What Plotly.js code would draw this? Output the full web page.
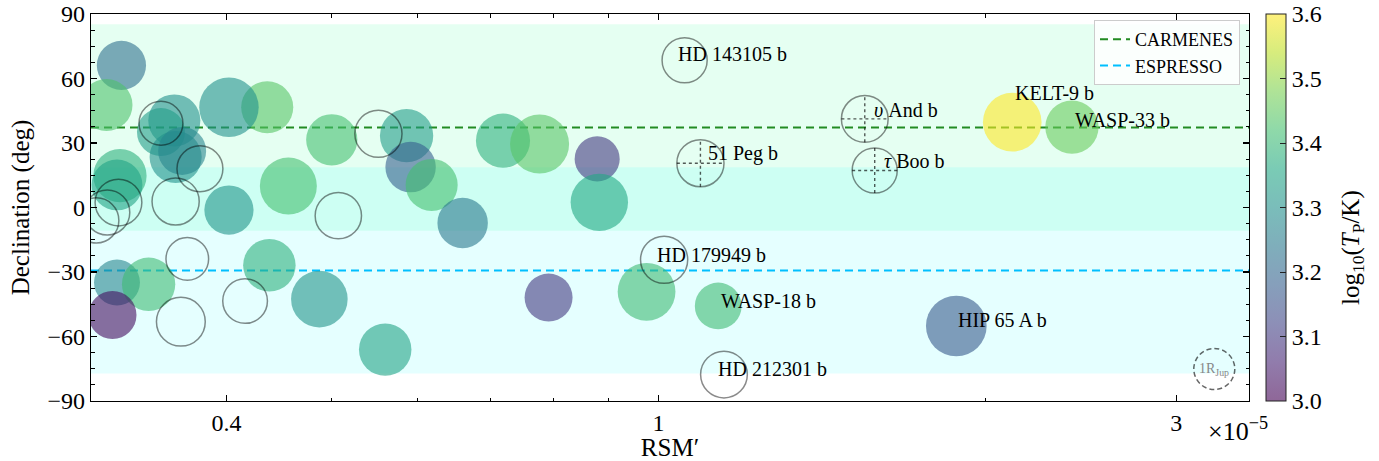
<!DOCTYPE html>
<html><head><meta charset="utf-8">
<script src="https://cdn.plot.ly/plotly-3.0.1.min.js"></script>
<style>html,body{margin:0;padding:0;background:#fff}#chart{width:1379px;height:461px}</style>
</head><body><div id="chart"></div>
<script>
// ---------- DATA ----------
// RSM' in units of 1e-5, declination in deg, planet radius in R_Jup, log10(T_P/K)
const filledX = [0.320, 0.310, 0.358, 0.348, 0.359, 0.364, 0.436, 0.402, 0.456, 0.402, 0.319, 0.317, 0.317, 0.339, 0.314, 0.438, 0.487, 0.500, 0.586, 0.591, 0.618, 0.660, 0.560, 0.719, 0.777, 0.878, 0.882, 0.792, 0.975, 1.135, 2.118, 2.404, 1.881];
const filledDec = [66.1, 47.7, 40.5, 35.1, 23.5, 26.3, 46.6, 46.6, 10.0, -1.2, 14.8, 10.5, -34.9, -35.7, -50.0, -26.9, -42.6, 31.5, 33.4, 18.8, 10.5, -7.2, -66.1, 31.1, 29.5, 22.6, 2.4, -41.9, -39.2, -45.8, 39.7, 37.4, -55.1];
const filledRadius = [1.20, 1.27, 1.27, 1.17, 1.27, 1.17, 1.27, 1.45, 1.39, 1.20, 1.30, 1.24, 1.12, 1.30, 1.17, 1.28, 1.38, 1.25, 1.30, 1.23, 1.27, 1.23, 1.28, 1.32, 1.44, 1.10, 1.40, 1.17, 1.41, 1.14, 1.43, 1.30, 1.48];
const filledLogT = [3.22, 3.43, 3.30, 3.33, 3.30, 3.27, 3.44, 3.30, 3.42, 3.31, 3.38, 3.35, 3.27, 3.41, 3.02, 3.38, 3.31, 3.42, 3.33, 3.18, 3.42, 3.24, 3.35, 3.38, 3.44, 3.10, 3.36, 3.10, 3.41, 3.41, 3.60, 3.46, 3.17];
const filledName = ['', '', '', '', '', '', '', '', '', '', '', '', '', '', '', '', '', '', '', '', '', '', '', '', '', '', '', '', '', 'WASP-18 b', 'KELT-9 b', 'WASP-33 b', 'HIP 65 A b'];

// planets without temperature (open circles)
const openX = [0.348, 0.378, 0.359, 0.318, 0.3105, 0.3034, 0.368, 0.363, 0.416, 0.507, 0.552, 1.012, 1.149, 1.093, 1.057, 1.549, 1.582];
const openDec = [39.2, 18.0, 2.8, 2.3, -2.3, -6.0, -23.9, -53.1, -43.5, -3.8, 34.3, -24.3, -77.7, 20.6, 68.5, 41.2, 17.2];
const openRadius = [1.07, 1.12, 1.15, 1.14, 1.10, 1.10, 1.04, 1.19, 1.09, 1.13, 1.15, 1.15, 1.14, 1.15, 1.10, 1.14, 1.10];
const openName = ['', '', '', '', '', '', '', '', '', '', '', 'HD 179949 b', 'HD 212301 b', '51 Peg b', 'HD 143105 b', 'υ And b', 'τ Boo b'];
const crosshairNames = ['51 Peg b', 'υ And b', 'τ Boo b'];

// observatories
const siteNames = ['CARMENES', 'ESPRESSO'];
const siteLat = [37.22, -29.26];
const siteDecMin = [-10.78, -77.26];
const siteDecMax = [85.22, 18.74];

// reference size
const refRadius = 1; // R_Jup

// ticks
const xTickVals = [0.4, 1, 3];
const xTickText = ['0.4', '1', '3'];
const xMinorVals = [0.3, 0.5, 0.6, 0.7, 0.8, 0.9, 2];
const yTickVals = [-90, -60, -30, 0, 30, 60, 90];
const cbTickVals = [3.0, 3.1, 3.2, 3.3, 3.4, 3.5, 3.6];
const cbTickText = ['3.0', '3.1', '3.2', '3.3', '3.4', '3.5', '3.6'];
const xRange = [0.3, 3.5];
const yRange = [-90, 90];
const cRange = [3.0, 3.6];

// ---------- STYLE ----------
const FONT = 'Liberation Serif, Times New Roman, serif';
const PX_PER_RJUP = 41;
const MARGIN = {l: 91, r: 130, t: 14, b: 60};
const PLOT_W = 1379 - MARGIN.l - MARGIN.r, PLOT_H = 461 - MARGIN.t - MARGIN.b;
const siteLineColors = ['#228B22', '#00BFFF'];
const siteBandColors = ['rgba(0,255,127,0.10)', 'rgba(0,255,255,0.10)'];
const labelOffset = {
  'HD 143105 b': [-9, 6], '51 Peg b': [6, 10], 'υ And b': [7, 9], 'τ Boo b': [7, 10],
  'KELT-9 b': [1, 29], 'WASP-33 b': [1, 7], 'HD 179949 b': [-9, 5], 'WASP-18 b': [1, 5],
  'HD 212301 b': [-8, 6], 'HIP 65 A b': [0, 6]
};
const viridis = ['#440154','#482475','#414487','#355f8d','#2a788e','#21918c','#22a884','#44bf70','#7ad151','#bddf26','#fde725'];
function blend(hex, a) {
  const r = parseInt(hex.slice(1,3),16), g = parseInt(hex.slice(3,5),16), b = parseInt(hex.slice(5,7),16);
  const f = c => Math.round(c*a + 255*(1-a));
  return 'rgb(' + f(r) + ',' + f(g) + ',' + f(b) + ')';
}
const viridisScale = viridis.map((c, i) => [i/10, c]);
const viridisPale = viridis.map((c, i) => [i/10, blend(c, 0.6)]);

function fmtName(n) {
  return n.replace(/^([υτ])/, '<i>$1</i>');
}
// fraction of the log x-axis (used only to anchor pixel-sized decorations)
const lx0 = Math.log10(xRange[0]), lx1 = Math.log10(xRange[1]);
function xFrac(v) { return (Math.log10(v) - lx0) / (lx1 - lx0); }
// page pixel -> paper fraction (for decorations placed outside the data)
function px2fx(px) { return (px - MARGIN.l) / PLOT_W; }
function py2fy(py) { return (461 - MARGIN.b - py) / PLOT_H; }

// ---------- TRACES ----------
const traces = [];
traces.push({
  type: 'scatter', mode: 'markers', x: filledX, y: filledDec, showlegend: false, hoverinfo: 'skip',
  cliponaxis: true,
  marker: {
    size: filledRadius.map(r => r * PX_PER_RJUP), color: filledLogT, cmin: cRange[0], cmax: cRange[1],
    colorscale: viridisScale, opacity: 0.6, line: {width: 0}, showscale: false
  }
});
traces.push({
  type: 'scatter', mode: 'markers', x: openX, y: openDec, showlegend: false, hoverinfo: 'skip',
  cliponaxis: true,
  marker: {
    size: openRadius.map(r => r * PX_PER_RJUP), color: 'rgba(0,0,0,0)',
    line: {width: 1.5, color: 'rgba(0,0,0,0.65)'}
  }
});
// colorbar carrier
traces.push({
  type: 'scatter', mode: 'markers', x: [null], y: [null], showlegend: false, hoverinfo: 'skip',
  marker: {
    color: [cRange[0]], cmin: cRange[0], cmax: cRange[1], colorscale: viridisPale, showscale: true,
    colorbar: {
      x: px2fx(1266), xanchor: 'left', xpad: 0, ypad: 0, y: 0.5, yanchor: 'middle',
      len: 1, lenmode: 'fraction', thickness: 20, thicknessmode: 'pixels',
      outlinewidth: 1, outlinecolor: '#222',
      tickmode: 'array', tickvals: cbTickVals.map(v => Math.min(Math.max(v, cRange[0]), cRange[1] - 1e-9)),
      ticktext: cbTickText, ticklabeloverflow: 'allow',
      ticks: 'inside', ticklen: 6, tickcolor: '#222',
      tickfont: {family: FONT, size: 24, color: '#000'}
    }
  }
});

// ---------- SHAPES ----------
const shapes = [];
siteNames.forEach((n, i) => {
  shapes.push({type: 'rect', xref: 'paper', yref: 'y', x0: 0, x1: 1, y0: siteDecMin[i], y1: siteDecMax[i],
    fillcolor: siteBandColors[i], line: {width: 0}, layer: 'below'});
});
siteNames.forEach((n, i) => {
  shapes.push({type: 'line', xref: 'paper', yref: 'y', x0: 0, x1: 1, y0: siteLat[i], y1: siteLat[i],
    line: {color: siteLineColors[i], width: 2, dash: '8px,5px'}, layer: 'below',
    showlegend: true, name: n, legendrank: i + 1});
});
openName.forEach((n, i) => {
  if (crosshairNames.indexOf(n) < 0) return;
  const r = openRadius[i] * PX_PER_RJUP / 2;
  const fx = xFrac(openX[i]);
  shapes.push({type: 'line', xref: 'paper', yref: 'y', xsizemode: 'pixel', xanchor: fx, x0: -r, x1: r,
    y0: openDec[i], y1: openDec[i], line: {color: 'rgba(0,0,0,0.65)', width: 1.4, dash: 'dot'}});
  shapes.push({type: 'line', xref: 'paper', yref: 'y', ysizemode: 'pixel', yanchor: openDec[i], y0: -r, y1: r,
    x0: fx, x1: fx, line: {color: 'rgba(0,0,0,0.65)', width: 1.4, dash: 'dot'}});
});
// 1 R_Jup reference circle
const refR = refRadius * PX_PER_RJUP / 2;
const refPx = [px2fx(1214.3), py2fy(369)];
shapes.push({type: 'circle', xref: 'paper', yref: 'paper', xsizemode: 'pixel', ysizemode: 'pixel',
  xanchor: refPx[0], yanchor: refPx[1], x0: -refR, x1: refR, y0: -refR, y1: refR,
  line: {color: 'rgba(0,0,0,0.6)', width: 1.5, dash: '5px,3px'}});

// ---------- ANNOTATIONS ----------
const annotations = [];
function addLabels(names, xs, ys) {
  names.forEach((n, i) => {
    if (!n) return;
    const off = labelOffset[n] || [0, 0];
    annotations.push({x: Math.log10(xs[i]), y: ys[i], xref: 'x', yref: 'y', text: fmtName(n),
      showarrow: false, xanchor: 'left', yanchor: 'middle', xshift: off[0], yshift: off[1],
      font: {family: FONT, size: 20, color: '#000'}});
  });
}
addLabels(filledName, filledX, filledDec);
addLabels(openName, openX, openDec);
annotations.push({xref: 'paper', yref: 'paper', x: refPx[0], y: refPx[1], text: refRadius + 'R<sub>Jup</sub>',
  showarrow: false, xanchor: 'center', yanchor: 'middle', font: {family: FONT, size: 14, color: '#888'}});
annotations.push({xref: 'paper', yref: 'paper', x: px2fx(1238), y: py2fy(429),
  text: '×10<sup>−5</sup>', showarrow: false, xanchor: 'center', yanchor: 'middle',
  font: {family: FONT, size: 26, color: '#000'}});
annotations.push({xref: 'paper', yref: 'paper', x: px2fx(1352), y: py2fy(248),
  text: 'log<sub>10</sub>(<i>T</i><sub>P</sub>/K)', textangle: -90, showarrow: false,
  xanchor: 'center', yanchor: 'middle', font: {family: FONT, size: 25, color: '#000'}});

// ---------- LAYOUT ----------
const axisCommon = {
  showline: true, linecolor: '#000', linewidth: 1.2, mirror: 'ticks', ticks: 'inside',
  ticklen: 6, tickwidth: 1.2, tickcolor: '#000', showgrid: false, zeroline: false,
  ticklabeloverflow: 'allow',
  tickfont: {family: FONT, size: 24, color: '#000'}
};
const layout = {
  width: 1379, height: 461,
  margin: MARGIN,
  paper_bgcolor: '#fff', plot_bgcolor: '#fff',
  font: {family: FONT, color: '#000'},
  xaxis: Object.assign({}, axisCommon, {
    type: 'log', range: xRange.map(Math.log10), tickmode: 'array', tickvals: xTickVals, ticktext: xTickText,
    minor: {tickmode: 'array', tickvals: xMinorVals, ticks: 'inside', ticklen: 3.5, tickwidth: 1, tickcolor: '#000'},
    title: {text: 'RSM′', font: {family: FONT, size: 25, color: '#000'}, standoff: 5}
  }),
  yaxis: Object.assign({}, axisCommon, {
    range: yRange, tickmode: 'array', tickvals: yTickVals,
    minor: {dtick: 7.5, ticks: 'inside', ticklen: 3.5, tickwidth: 1, tickcolor: '#000'},
    title: {text: 'Declination (deg)', font: {family: FONT, size: 25, color: '#000'}, standoff: 10}
  }),
  showlegend: true,
  legend: {x: px2fx(1240), xanchor: 'right', y: py2fy(20), yanchor: 'top',
    bgcolor: 'rgba(255,255,255,0.85)', bordercolor: '#ccc', borderwidth: 1,
    font: {family: FONT, size: 18, color: '#000'}},
  shapes: shapes,
  annotations: annotations
};

Plotly.newPlot('chart', traces, layout, {displayModeBar: false, staticPlot: true});
</script>
</body></html>
